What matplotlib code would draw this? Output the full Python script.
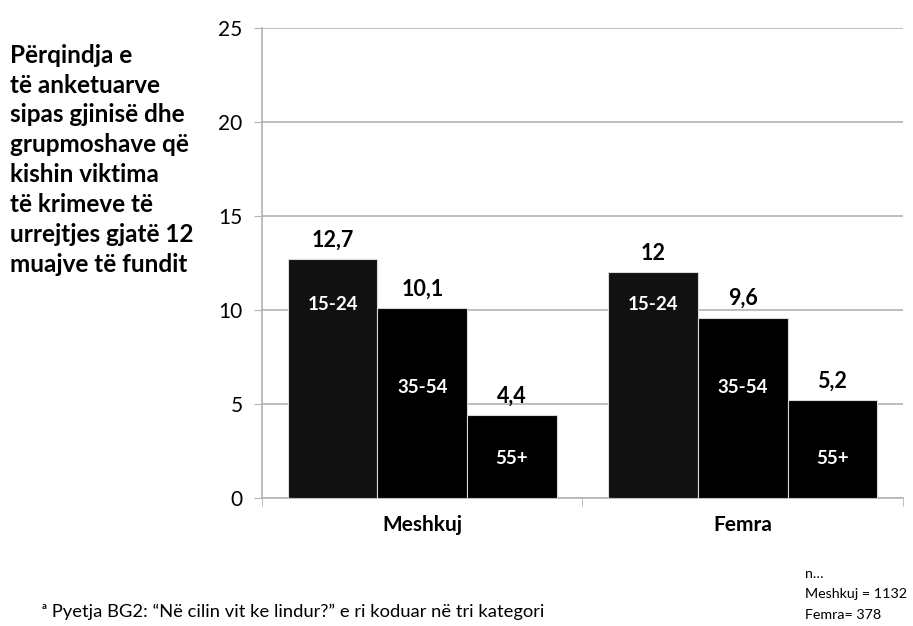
import numpy as np
import matplotlib.pyplot as plt

plt.rcParams['font.family'] = ['Lato', 'DejaVu Sans']

genders = ["Meshkuj", "Femra"]
age_groups = ["15-24", "35-54", "55+"]
values = [[12.7, 12.0],   # 15-24
          [10.1, 9.6],    # 35-54
          [4.4, 5.2]]     # 55+
value_text = [["12,7", "12"], ["10,1", "9,6"], ["4,4", "5,2"]]
inner_label_y = [10.3, 5.9, 2.1]
bar_colors = ["#111111", "#000000", "#000000"]

title = ("Përqindja e\ntë anketuarve\nsipas gjinisë dhe\ngrupmoshave që\n"
         "kishin viktima\ntë krimeve të\nurrejtjes gjatë 12\nmuajve të fundit")
footnote = "ᵃ Pyetja BG2: “Në cilin vit ke lindur?” e ri koduar në tri kategori"
n_note = "n…\nMeshkuj = 1132\nFemra= 378"

fig = plt.figure(figsize=(9.13, 6.26), dpi=100)
ax = fig.add_axes([0.287, 0.2045, 0.702, 0.7505])

x = np.arange(len(genders))
w = 0.28
grid_col = "#b3b3b3"
for i, grp in enumerate(age_groups):
    xs = x + (i - 1) * w
    ax.bar(xs, values[i], width=w, color=bar_colors[i], edgecolor="#d9d9d9",
           linewidth=0.8, zorder=3)
    for j in range(len(genders)):
        ax.text(xs[j], values[i][j] + 0.45, value_text[i][j], ha="center",
                va="bottom", fontsize=15.5, fontweight="bold", color="black")
        ax.text(xs[j], inner_label_y[i], grp, ha="center", va="center",
                fontsize=13.5, fontweight="bold", color="white", zorder=4)

ax.set_xlim(-0.5, 1.5)
ax.set_ylim(0, 25)
ax.set_yticks(range(0, 26, 5))
ax.set_xticks(x)
ax.set_xticklabels(genders, fontsize=15, fontweight="bold")
ax.set_xticks([-0.5, 0.5, 1.5], minor=True)
ax.tick_params(axis="x", which="major", length=0, pad=12)
ax.tick_params(axis="x", which="minor", length=6, color=grid_col, direction="out")
ax.tick_params(axis="y", length=6, color=grid_col, labelsize=15, pad=8)
ax.yaxis.grid(True, color=grid_col, linewidth=1.2, zorder=0)
ax.set_axisbelow(True)
for s in ["top", "right"]:
    ax.spines[s].set_visible(False)
for s in ["left", "bottom"]:
    ax.spines[s].set_color(grid_col)
    ax.spines[s].set_linewidth(1.2)

fig.text(0.011, 0.93, title, ha="left", va="top", fontsize=17.5,
         fontweight="bold", linespacing=1.36)
fig.text(0.046, 0.022, footnote, ha="left", va="center", fontsize=13.2)
fig.text(0.882, 0.008, n_note, ha="left", va="bottom", fontsize=10.3,
         linespacing=1.85)

fig.savefig("out.png", dpi=100)
